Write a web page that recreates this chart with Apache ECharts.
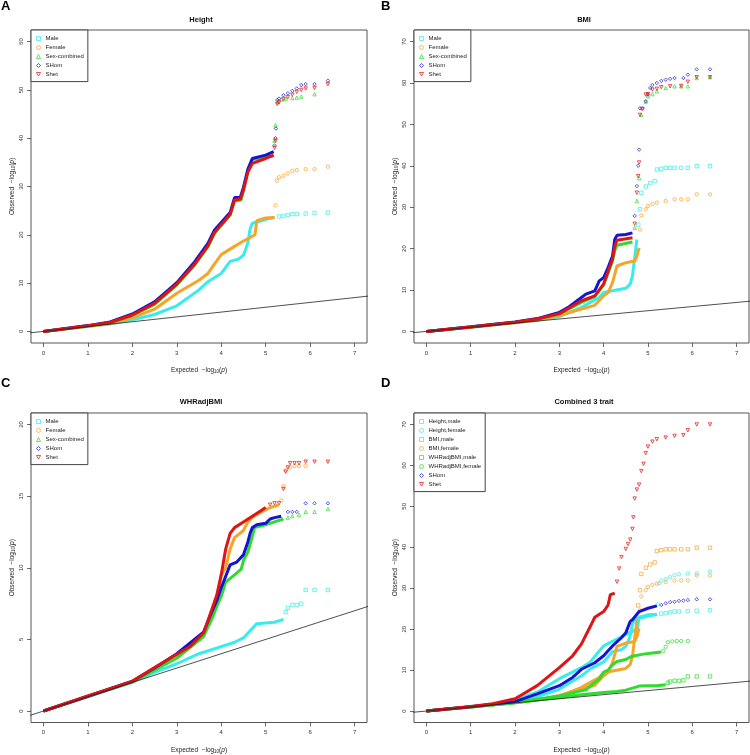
<!DOCTYPE html>
<html>
<head>
<meta charset="UTF-8">
<title>QQ plots</title>
<style>
  body { margin: 0; padding: 0; background: #fff; }
  #main { width: 750px; height: 755px; }
</style>
</head>
<body>
<div id="main"></div>
<script src="https://cdn.jsdelivr.net/npm/echarts@6/dist/echarts.min.js"></script>
<script>
// ticks
var xTicks = [0, 1, 2, 3, 4, 5, 6, 7];
var yTicksA = [0, 10, 20, 30, 40, 50, 60];
var yTicksB = [0, 10, 20, 30, 40, 50, 60, 70];
var yTicksC = [0, 5, 10, 15, 20];
var yTicksD = [0, 10, 20, 30, 40, 50, 60, 70];

// y = x reference
var refLine = [[-1, -1], [8, 8]];

// A: Height  (dense part drawn as line, sparse tail as points)
var aMaleLine = [[0,0],[1,1.0],[1.5,1.55],[2,2.4],[2.5,3.5],[3,5.3],[3.5,8.6],[3.7,10.3],[4.0,12],[4.2,14.5],[4.4,15],[4.5,15.8],[4.55,17],[4.6,18.4],[4.65,21.2],[4.7,22.4],[4.9,22.9],[5.0,23.2],[5.2,23.6]];
var aMaleTail = [[5.3,23.8],[5.4,23.9],[5.5,24.1],[5.6,24.3],[5.7,24.3],[5.9,24.4],[6.1,24.5],[6.4,24.6]];
var aFemaleLine = [[0,0],[1,1.05],[1.5,1.65],[2,2.8],[2.5,4.6],[3,7.9],[3.5,10.6],[3.7,12],[3.85,14],[4.0,15.9],[4.3,17.6],[4.5,18.7],[4.7,19.7],[4.76,20],[4.8,22.9],[5.0,23.5],[5.2,23.6]];
var aFemaleTail = [[5.22,26.1],[5.25,31.2],[5.3,31.9],[5.4,32.2],[5.5,32.7],[5.6,33.2],[5.7,33.4],[5.9,33.6],[6.1,33.6],[6.4,34.1]];
var aSexLine = [[0,0],[1,1.1],[1.5,1.8],[2,3.3],[2.5,5.6],[3,9.6],[3.4,13.7],[3.7,17.5],[3.85,20.3],[4.2,24.1],[4.3,27.0],[4.45,27.2],[4.5,29.3],[4.6,33.3],[4.7,35.6],[5.0,36.1],[5.17,36.3]];
var aSexTail = [[5.2,39.5],[5.22,42.7],[5.27,47.5],[5.35,48],[5.45,48.2],[5.6,48.3],[5.7,48.4],[5.8,48.6],[6.1,49.1]];
var aHomLine = [[0,0],[1,1.2],[1.5,1.95],[2,3.6],[2.5,6.1],[3,10.1],[3.4,14.4],[3.7,18.2],[3.85,21],[4.2,24.6],[4.3,27.7],[4.43,27.8],[4.5,29.8],[4.6,33.6],[4.7,35.8],[5.0,36.5],[5.18,37.2]];
var aHomTail = [[5.2,38.5],[5.22,40],[5.23,42],[5.26,47.9],[5.3,48.2],[5.4,48.9],[5.5,49.3],[5.6,49.8],[5.7,50.3],[5.8,51],[5.9,51.2],[6.1,51.2],[6.4,51.9]];
var aHetLine = [[0,0],[1,1.15],[1.5,1.85],[2,3.4],[2.5,5.8],[3,9.8],[3.4,13.9],[3.7,17.7],[3.85,20.5],[4.2,24.2],[4.3,27.2],[4.43,27.4],[4.5,29.2],[4.6,33],[4.7,34.8],[5.0,35.8],[5.18,36.5]];
var aHetTail = [[5.2,38],[5.22,39.5],[5.26,47.1],[5.3,47.4],[5.4,48.1],[5.5,48.5],[5.6,49],[5.7,49.6],[5.8,50],[5.9,50.3],[6.1,50.4],[6.4,51.2]];

// B: BMI
var bMaleLine = [[0,0],[1,1.0],[2,2.1],[2.5,2.7],[3,3.6],[3.5,5.8],[3.7,7],[3.9,8.2],[4.0,9.4],[4.2,9.8],[4.5,10.4],[4.6,11.4],[4.65,13.4],[4.7,17.8],[4.75,22.2]];
var bMaleTail = [[4.78,25.8],[4.82,29.5],[4.85,33.5],[4.95,35],[5.05,35.8],[5.15,36.3],[5.2,39.1],[5.3,39.3],[5.4,39.5],[5.5,39.5],[5.6,39.5],[5.75,39.5],[5.9,39.5],[6.1,39.9],[6.4,39.9]];
var bFemaleLine = [[0,0],[1,1.0],[2,2.1],[2.5,2.7],[3,3.8],[3.5,5.4],[3.8,6.3],[4.0,8.6],[4.1,9.4],[4.2,11.8],[4.3,15.8],[4.5,16.6],[4.7,17],[4.75,18.2],[4.8,20.2]];
var bFemaleTail = [[4.82,24.6],[4.85,28],[4.95,29.5],[5.0,30.3],[5.1,30.8],[5.2,31.1],[5.4,31.5],[5.6,31.9],[5.75,31.9],[5.9,31.9],[6.1,33.1],[6.4,33.1]];
var bSexLine = [[0,0],[1,1.05],[2,2.2],[2.5,2.9],[3,4.2],[3.5,7],[3.8,8.4],[4.0,11.2],[4.2,17],[4.25,19.5],[4.3,20.8],[4.65,21.6]];
var bSexTail = [[4.7,25],[4.75,31.5],[4.8,37],[4.85,52.3],[4.95,55.5],[5.0,56.8],[5.1,57.3],[5.2,58],[5.4,58.8],[5.6,59.2],[5.75,59.2],[5.9,59.2],[6.1,61.2],[6.4,61.4]];
var bHomLine = [[0,0],[1,1.1],[2,2.3],[2.5,3.1],[3,4.6],[3.2,5.8],[3.4,7.4],[3.6,9],[3.8,9.8],[3.9,12.2],[4.0,13],[4.1,15.4],[4.2,18.2],[4.25,22.2],[4.3,23.2],[4.5,23.4],[4.65,23.8]];
var bHomTail = [[4.7,27.9],[4.75,35.1],[4.78,40],[4.8,43.9],[4.82,53.9],[4.88,53.9],[4.95,55.6],[5.0,57.2],[5.05,58.8],[5.1,59.5],[5.2,60],[5.3,60.5],[5.4,60.8],[5.5,61],[5.6,61.2],[5.8,61.2],[5.9,62],[6.1,63.3],[6.4,63.3]];
var bHetLine = [[0,0],[1,1.05],[2,2.2],[2.5,3.0],[3,4.3],[3.5,7.4],[3.8,8.6],[4.0,11.5],[4.2,17.5],[4.25,20.5],[4.3,22],[4.65,22.6]];
var bHetTail = [[4.7,26],[4.75,33.5],[4.78,37.5],[4.8,40.8],[4.82,52.3],[4.87,53.7],[4.95,57.2],[5.0,57.3],[5.1,58.4],[5.2,58.6],[5.3,59],[5.5,59.2],[5.75,59.3],[5.9,60.3],[6.1,61.4],[6.4,61.4]];

// C: WHRadjBMI
var cMaleLine = [[0,0],[1,1],[2,2.0],[2.5,2.7],[3,3.3],[3.5,4.0],[4.0,4.5],[4.3,4.8],[4.5,5.1],[4.65,5.6],[4.8,6.1],[5.0,6.15],[5.2,6.2],[5.4,6.4]];
var cMaleTail = [[5.45,6.9],[5.5,7.2],[5.6,7.4],[5.7,7.4],[5.8,7.5],[5.9,8.45],[6.1,8.45],[6.4,8.45]];
var cFemaleLine = [[0,0],[1,1.02],[2,2.05],[2.5,2.9],[3,3.7],[3.6,5.2],[3.8,7.0],[3.9,7.8],[4.0,9.5],[4.1,10],[4.2,11.3],[4.3,12.1],[4.5,12.6],[4.6,13.2],[4.7,13.5],[4.9,13.9],[5.1,14.2],[5.3,14.4]];
var cFemaleTail = [[5.35,14.7],[5.4,15.7],[5.45,16.8],[5.55,17],[5.65,17.1],[5.75,17.1],[5.9,17.1]];
var cSexLine = [[0,0],[1,1.02],[2,2.03],[2.5,2.85],[3,3.7],[3.6,5.2],[3.8,6.5],[3.9,7.3],[4.0,8.0],[4.1,9],[4.3,9.5],[4.45,9.9],[4.5,10.5],[4.6,11.1],[4.7,12.2],[4.75,12.8],[5.0,13],[5.2,13.2],[5.4,13.4]];
var cSexTail = [[5.5,13.5],[5.6,13.6],[5.75,13.7],[5.9,13.9],[6.1,13.9],[6.4,14.1]];
var cHomLine = [[0,0],[1,1.03],[2,2.08],[2.5,3.0],[3,4.0],[3.6,5.5],[3.8,7],[3.9,7.7],[4.0,8.6],[4.1,9.4],[4.2,10.2],[4.35,10.4],[4.5,10.9],[4.6,11.8],[4.65,12.4],[4.7,12.8],[4.8,13],[5.0,13.1],[5.1,13.4],[5.2,13.5],[5.35,13.6]];
var cHomTail = [[5.5,13.9],[5.6,13.9],[5.7,13.9],[5.9,14.5],[6.1,14.5],[6.4,14.5]];
var cHetLine = [[0,0],[1,1.05],[2,2.07],[2.5,3.04],[3,3.96],[3.3,4.5],[3.6,5.45],[3.7,6.3],[3.8,7.2],[3.9,8.1],[4.0,9.5],[4.05,10.4],[4.1,11.3],[4.2,12.4],[4.3,12.8],[4.5,13.2],[4.7,13.6],[4.9,14],[5.0,14.2]];
var cHetTail = [[5.1,14.4],[5.2,14.5],[5.3,14.5],[5.4,15.5],[5.45,16.7],[5.5,17],[5.55,17.3],[5.65,17.3],[5.75,17.3],[5.9,17.4],[6.1,17.4],[6.4,17.4]];

// D: combined 3 trait (sex-specific traits reuse A-C values)
var dHomLine = [[0,0],[1,1.05],[2,2.3],[2.5,4.2],[3,6.2],[3.3,8.2],[3.5,10.2],[3.8,11.8],[4.0,13.5],[4.1,14.7],[4.2,15.9],[4.4,17.9],[4.5,19.1],[4.6,21.9],[4.65,22.3],[4.8,24.3],[5.0,25.1],[5.2,25.7]];
var dHomTail = [[5.3,25.9],[5.4,26.3],[5.5,26.6],[5.6,26.7],[5.7,26.9],[5.8,27],[5.9,27.1],[6.1,27.3],[6.4,27.3]];
var dHetLine = [[0,0],[1,1.1],[1.5,1.8],[2,3.0],[2.5,6.2],[3,10.6],[3.3,13.5],[3.5,16.4],[3.7,20.7],[3.8,22.9],[4.0,24.3],[4.1,25.9],[4.15,28.4],[4.25,28.8]];
var dHetTail = [[4.3,31.6],[4.35,34.8],[4.4,37.6],[4.5,39.6],[4.55,40.8],[4.6,41.9],[4.65,44.5],[4.67,47.3],[4.7,51.9],[4.75,54.1],[4.8,55.3],[4.85,58.6],[4.9,60.4],[4.95,63],[5.0,64.6],[5.1,65.8],[5.2,66.4],[5.4,66.8],[5.6,67.2],[5.8,67.4],[5.9,68.6],[6.1,70],[6.4,70]];

var CYAN = '#38ECEC', ORANGE = '#F5A52A', GREEN = '#2EDB2E', BLUE = '#1414D2', RED = '#E01414';
var invTri = 'path://M0,0L10,0L5,9Z';
var FONT = 'Liberation Sans';

var grids = [
  { left: 31, top: 30, width: 336, height: 313 },
  { left: 414, top: 30, width: 335, height: 313 },
  { left: 31, top: 413, width: 336, height: 313 },
  { left: 414, top: 413, width: 335, height: 313 }
];
var yRanges = [[-2.4, 62.4, yTicksA], [-2.8, 72.8, yTicksB], [-0.8, 20.8, yTicksC], [-2.8, 72.8, yTicksD]];

var axisRich = {
  n: { fontSize: 6.5, fontFamily: FONT, color: '#222', lineHeight: 9 },
  s: { fontSize: 4.5, fontFamily: FONT, color: '#222', lineHeight: 9, padding: [3, 0, 0, 0] },
  i: { fontSize: 6.5, fontFamily: FONT, color: '#222', fontStyle: 'italic', lineHeight: 9 }
};

var xAxes = [], yAxes = [];
grids.forEach(function (g, k) {
  g.show = true;
  g.borderColor = '#555';
  g.borderWidth = 1;
  xAxes.push({
    type: 'value', gridIndex: k, min: -0.28, max: 7.28,
    name: '{n|Expected  \u2212log}{s|10}{n|(}{i|p}{n|)}', nameLocation: 'middle', nameGap: 23,
    nameTextStyle: { rich: axisRich },
    axisLine: { show: false, onZero: false }, splitLine: { show: false },
    axisTick: { show: true, customValues: xTicks, length: 4, lineStyle: { color: '#444', width: 0.8 } },
    axisLabel: { customValues: xTicks, fontSize: 6, fontFamily: FONT, color: '#333', margin: 7 }
  });
  var yr = yRanges[k];
  yAxes.push({
    type: 'value', gridIndex: k, min: yr[0], max: yr[1],
    name: '{n|Observed  \u2212log}{s|10}{n|(}{i|p}{n|)}', nameLocation: 'middle', nameGap: 14,
    nameTextStyle: { rich: axisRich },
    axisLine: { show: false, onZero: false }, splitLine: { show: false },
    axisTick: { show: true, customValues: yr[2], length: 4, lineStyle: { color: '#444', width: 0.8 } },
    axisLabel: { customValues: yr[2], fontSize: 6, fontFamily: FONT, color: '#333', rotate: 90, margin: 7 }
  });
});

var series = [];
function addGroup(k, name, line, tail, color, symbol) {
  series.push({
    type: 'scatter', name: name, xAxisIndex: k, yAxisIndex: k, data: tail,
    symbol: symbol, symbolSize: 3.4,
    itemStyle: { color: 'none', borderColor: color, borderWidth: 0.9 }
  });
  series.push({
    type: 'line', name: name, xAxisIndex: k, yAxisIndex: k, data: line,
    symbol: 'none', clip: true,
    lineStyle: { color: color, width: 3 }, itemStyle: { color: color }
  });
}

addGroup(0, 'Male', aMaleLine, aMaleTail, CYAN, 'rect');
addGroup(0, 'Female', aFemaleLine, aFemaleTail, ORANGE, 'circle');
addGroup(0, 'Sex-combined', aSexLine, aSexTail, GREEN, 'triangle');
addGroup(0, 'SHom', aHomLine, aHomTail, BLUE, 'diamond');
addGroup(0, 'Shet', aHetLine, aHetTail, RED, invTri);

addGroup(1, 'Male', bMaleLine, bMaleTail, CYAN, 'rect');
addGroup(1, 'Female', bFemaleLine, bFemaleTail, ORANGE, 'circle');
addGroup(1, 'Sex-combined', bSexLine, bSexTail, GREEN, 'triangle');
addGroup(1, 'SHom', bHomLine, bHomTail, BLUE, 'diamond');
addGroup(1, 'Shet', bHetLine, bHetTail, RED, invTri);

addGroup(2, 'Male', cMaleLine, cMaleTail, CYAN, 'rect');
addGroup(2, 'Female', cFemaleLine, cFemaleTail, ORANGE, 'circle');
addGroup(2, 'Sex-combined', cSexLine, cSexTail, GREEN, 'triangle');
addGroup(2, 'SHom', cHomLine, cHomTail, BLUE, 'diamond');
addGroup(2, 'Shet', cHetLine, cHetTail, RED, invTri);

addGroup(3, 'Height,male', aMaleLine, aMaleTail, CYAN, 'rect');
addGroup(3, 'Height,female', aFemaleLine, aFemaleTail, CYAN, 'circle');
addGroup(3, 'BMI,male', bMaleLine, bMaleTail, ORANGE, 'rect');
addGroup(3, 'BMI,female', bFemaleLine, bFemaleTail, ORANGE, 'circle');
addGroup(3, 'WHRadjBMI,male', cMaleLine, cMaleTail, GREEN, 'rect');
addGroup(3, 'WHRadjBMI,female', cFemaleLine, cFemaleTail, GREEN, 'circle');
addGroup(3, 'SHom', dHomLine, dHomTail, BLUE, 'diamond');
addGroup(3, 'Shet', dHetLine, dHetTail, RED, invTri);

for (var k = 0; k < 4; k++) {
  series.push({
    type: 'line', xAxisIndex: k, yAxisIndex: k, data: refLine, symbol: 'none',
    clip: true, lineStyle: { color: '#222', width: 0.8 }
  });
}

function legendItem(name, color, icon) {
  return { name: name, icon: icon, itemStyle: { color: 'none', borderColor: color, borderWidth: 0.9 } };
}
var legend5 = [
  ['Male', CYAN, 'rect'], ['Female', ORANGE, 'circle'], ['Sex-combined', GREEN, 'triangle'],
  ['SHom', BLUE, 'diamond'], ['Shet', RED, invTri]
];
var legend8 = [
  ['Height,male', CYAN, 'rect'], ['Height,female', CYAN, 'circle'], ['BMI,male', ORANGE, 'rect'],
  ['BMI,female', ORANGE, 'circle'], ['WHRadjBMI,male', GREEN, 'rect'], ['WHRadjBMI,female', GREEN, 'circle'],
  ['SHom', BLUE, 'diamond'], ['Shet', RED, invTri]
];
function makeLegend(list, left, top) {
  return {
    orient: 'vertical', left: left, top: top, selectedMode: false,
    itemWidth: 4, itemHeight: 4, itemGap: 0,
    padding: [4, 4, 3, 3], borderColor: '#444', borderWidth: 1, backgroundColor: '#fff',
    textStyle: { fontSize: 6, lineHeight: 7.5, fontFamily: FONT, color: '#222' },
    data: list.map(function (d) { return legendItem(d[0], d[1], d[2]); })
  };
}

function panelTitle(text, x, y) {
  return { text: text, left: x, top: y, textAlign: 'center',
    textStyle: { fontSize: 7.5, fontWeight: 'bold', fontFamily: FONT, color: '#111' } };
}
function panelLetter(text, x, y) {
  return { text: text, left: x, top: y, padding: 0,
    textStyle: { fontSize: 13, fontWeight: 'bold', fontFamily: FONT, color: '#000' } };
}

var option = {
  animation: false,
  title: [
    panelLetter('A', 1, 0), panelLetter('B', 381, 0), panelLetter('C', 1, 377), panelLetter('D', 381, 377),
    panelTitle('Height', 196, 11), panelTitle('BMI', 579, 11),
    panelTitle('WHRadjBMI', 196, 393), panelTitle('Combined 3 trait', 579, 393)
  ],
  legend: [
    makeLegend(legend5, 31, 30), makeLegend(legend5, 414, 30),
    makeLegend(legend5, 31, 413), makeLegend(legend8, 414, 413)
  ],
  grid: grids,
  xAxis: xAxes,
  yAxis: yAxes,
  series: series
};

var chart = echarts.init(document.getElementById('main'));
chart.setOption(option);
</script>
</body>
</html>
